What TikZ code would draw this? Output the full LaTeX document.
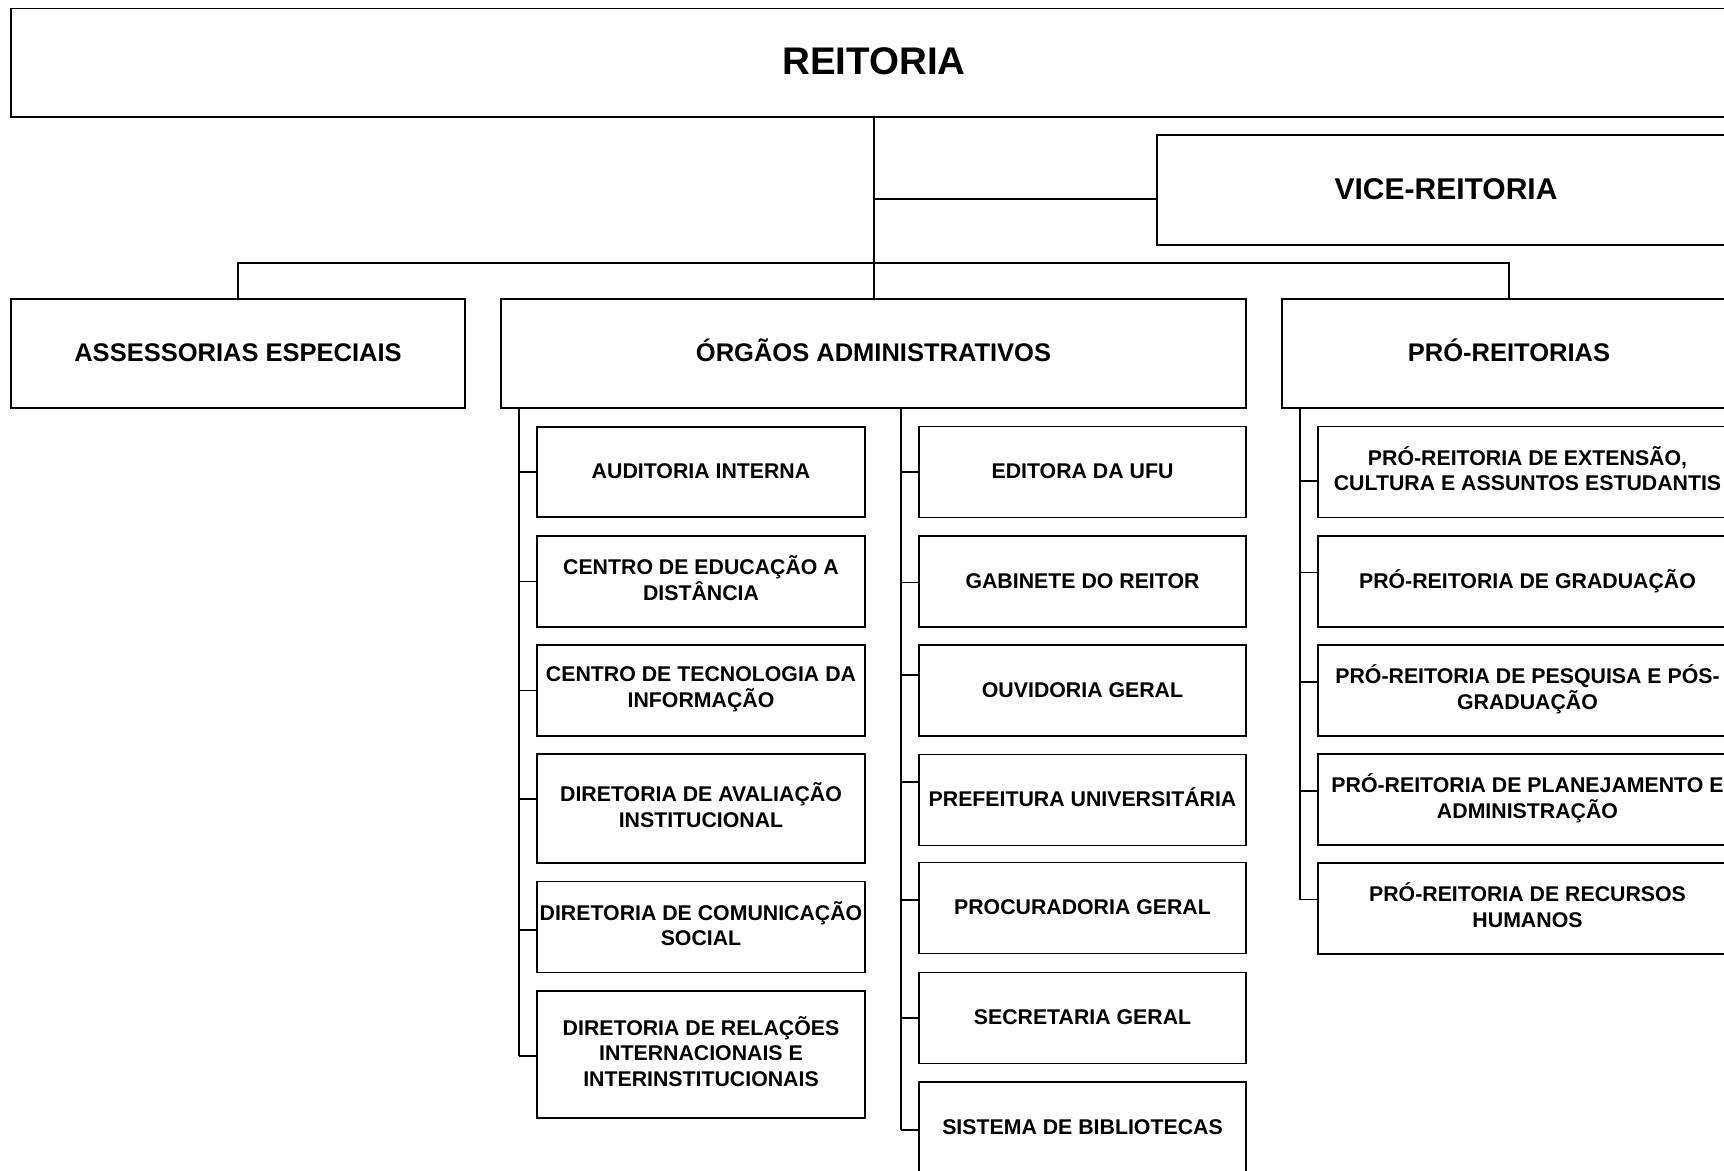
\documentclass[tikz,border=0pt]{standalone}
\usepackage{fontspec}
\setmainfont{Liberation Sans}
\begin{document}
\begin{tikzpicture}[x=1pt,y=-1pt,line width=1.3pt]
\tikzset{box/.style={draw,rectangle,align=center,inner sep=0pt,
                     font=\bfseries\fontsize{21.3}{25.5}\selectfont,
                     execute at begin node={\rule{0pt}{0.95em}},
                     execute at end node={\rule[-0.32em]{0pt}{0.32em}}}}
\tikzset{head/.style={box,minimum height=109pt,
                      font=\bfseries\fontsize{25.5}{30}\selectfont}}
\tikzset{obox/.style={box,minimum width=328pt,minimum height=91pt}}
\tikzset{rbox/.style={box,minimum width=327pt,minimum height=91pt}}
\tikzset{pbox/.style={box,minimum width=419pt,minimum height=91pt}}
\useasboundingbox (0,0) rectangle (1724,1170);
\clip (0,0) rectangle (1724,1170);
% top levels
\node[head,minimum width=1726pt,minimum height=108.5pt,
      font=\bfseries\fontsize{38.5}{46}\selectfont] (reit) at (874,62.75) {REITORIA};
\node[head,minimum width=578pt,minimum height=110pt,
      font=\bfseries\fontsize{30}{36}\selectfont] (vice) at (1446,190) {VICE-REITORIA};
\node[head,minimum width=454pt] (asse) at (238,353.5) {ASSESSORIAS ESPECIAIS};
\node[head,minimum width=745pt] (orga) at (873.5,353.5) {ÓRGÃOS ADMINISTRATIVOS};
\node[head,minimum width=454pt] (pro) at (1509,353.5) {PRÓ-REITORIAS};
% orgaos, left column
\node[obox,minimum height=90pt] (o1) at (701,472) {AUDITORIA INTERNA};
\node[obox] (o2) at (701,581.5) {CENTRO DE EDUCAÇÃO A\\DISTÂNCIA};
\node[obox] (o3) at (701,690.5) {CENTRO DE TECNOLOGIA DA\\INFORMAÇÃO};
\node[obox,minimum height=109pt] (o4) at (701,808.5) {DIRETORIA DE AVALIAÇÃO\\INSTITUCIONAL};
\node[obox,minimum height=90.5pt] (o5) at (701,927) {DIRETORIA DE COMUNICAÇÃO\\SOCIAL};
\node[obox,minimum height=127pt] (o6) at (701,1054.5) {DIRETORIA DE RELAÇÕES\\INTERNACIONAIS E\\INTERINSTITUCIONAIS};
% orgaos, right column
\node[rbox] (r1) at (1082.5,472) {EDITORA DA UFU};
\node[rbox] (r2) at (1082.5,581.5) {GABINETE DO REITOR};
\node[rbox] (r3) at (1082.5,690.5) {OUVIDORIA GERAL};
\node[rbox] (r4) at (1082.5,800) {PREFEITURA UNIVERSITÁRIA};
\node[rbox] (r5) at (1082.5,908) {PROCURADORIA GERAL};
\node[rbox] (r6) at (1082.5,1018) {SECRETARIA GERAL};
\node[rbox] (r7) at (1082.5,1127.5) {SISTEMA DE BIBLIOTECAS};
% pro-reitorias
\node[pbox] (p1) at (1527.5,472) {PRÓ-REITORIA DE EXTENSÃO,\\CULTURA E ASSUNTOS ESTUDANTIS};
\node[pbox] (p2) at (1527.5,581.5) {PRÓ-REITORIA DE GRADUAÇÃO};
\node[pbox] (p3) at (1527.5,690.5) {PRÓ-REITORIA DE PESQUISA E PÓS-\\GRADUAÇÃO};
\node[pbox] (p4) at (1527.5,799.5) {PRÓ-REITORIA DE PLANEJAMENTO E\\ADMINISTRAÇÃO};
\node[pbox] (p5) at (1527.5,908.5) {PRÓ-REITORIA DE RECURSOS\\HUMANOS};
% connectors
\coordinate (bus) at (874,263);
\draw (reit.south) -- (reit.south |- orga.north);
\draw ([yshift=-9pt]vice.west) -- ([yshift=-9pt]vice.west -| reit.south);
\draw (asse.north) |- (bus) -| (pro.north);
\coordinate (obus) at ([xshift=-17.5pt,yshift=-1.5pt]o6.west);
\coordinate (rbus) at ([xshift=-17.5pt,yshift=-2.5pt]r7.west);
\coordinate (pbus) at ([xshift=-17.5pt,yshift=9pt]p5.west);
\draw (orga.south -| obus) -- (obus);
\draw (orga.south -| rbus) -- (rbus);
\draw (pro.south -| pbus) -- (pbus);
\foreach \n/\d in {o1/0pt,o2/0pt,o3/0pt,o4/9.5pt,o5/-3pt,o6/-1.5pt,
                   r1/0pt,r2/-1pt,r3/15.5pt,r4/18pt,r5/8pt,r6/0pt,r7/-2.5pt,
                   p1/-9pt,p2/9pt,p3/8.5pt,p4/8.5pt,p5/9pt}
  \draw ([yshift=\d]\n.west) -- ++(-17.5,0);
\end{tikzpicture}
\end{document}
